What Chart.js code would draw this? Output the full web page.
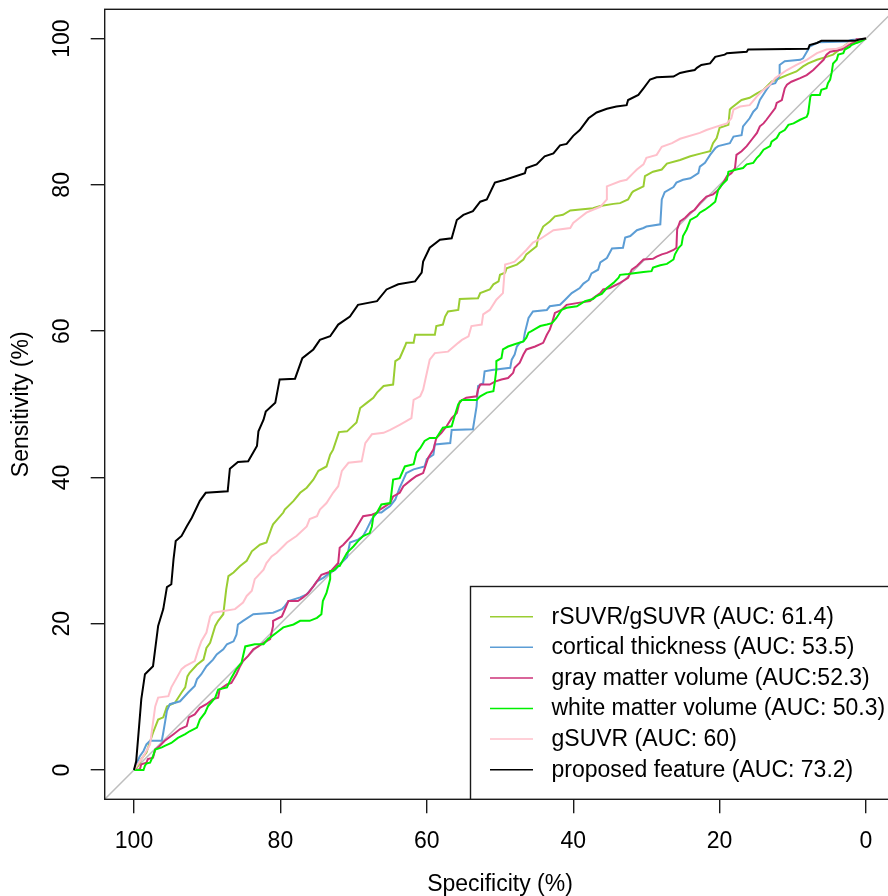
<!DOCTYPE html>
<html><head><meta charset="utf-8">
<script src="https://cdn.jsdelivr.net/npm/chart.js@4.4.1/dist/chart.umd.min.js"></script>
<style>
html,body{margin:0;padding:0;background:#fff;overflow:hidden;}
#wrap{width:888px;height:896px;overflow:hidden;position:relative;background:#fff;}
canvas{display:block;}
</style></head>
<body><div id="wrap"><canvas id="c" width="900" height="896"></canvas></div>
<script>
// ---- tick labels ----
const xTicks = [100, 80, 60, 40, 20, 0];
const yTicks = [0, 20, 40, 60, 80, 100];

// ---- series: [specificity %, sensitivity %] ----
const rsuvrCurve = [[100,0],[99.4,0.6],[99.0,1.5],[98.3,2.4],[97.4,5.1],[96.7,6.9],[96.0,7.2],[95.5,8.7],[94.4,9.2],[93.5,10.6],[93.0,11.3],[92.7,12.8],[92.4,13.3],[91.4,14.4],[90.5,15.1],[90.1,16.7],[89.6,17.4],[88.9,19.7],[88.5,20.4],[87.8,21.3],[87.4,24.7],[87.1,26.5],[86.4,27.0],[85.5,27.9],[84.6,28.6],[83.9,29.9],[82.8,30.8],[81.9,31.1],[81.2,33.1],[81.0,33.6],[79.6,35.2],[79.4,35.6],[78.2,36.8],[77.3,37.9],[76.4,38.6],[75.5,39.7],[74.8,40.9],[73.7,41.5],[73.2,43.1],[72.8,43.8],[72.0,46.2],[70.9,46.3],[69.6,47.5],[69.1,49.5],[68.2,50.2],[67.3,50.9],[66.8,51.6],[65.9,52.5],[64.6,52.7],[64.3,55.9],[63.7,56.3],[63.0,57.9],[62.8,58.4],[61.8,58.4],[61.6,59.5],[58.9,59.5],[58.7,60.7],[57.8,60.9],[57.5,62.0],[57.1,62.7],[55.7,62.9],[55.5,64.4],[53.0,64.5],[52.7,65.2],[51.4,65.7],[50.9,66.4],[50.2,66.8],[50.0,67.7],[49.3,68.0],[49.1,68.6],[47.7,69.1],[46.8,69.8],[46.4,70.5],[45.0,71.6],[44.8,72.8],[44.1,74.3],[43.2,75.0],[42.5,75.7],[41.4,75.9],[40.4,76.5],[37.3,76.8],[36.3,77.1],[34.5,77.4],[33.6,77.5],[32.5,78.0],[32.0,78.9],[31.8,79.1],[30.4,79.8],[30.2,81.2],[29.1,81.8],[27.9,82.1],[27.2,82.9],[25.4,83.4],[24.0,83.9],[22.5,84.3],[21.3,84.6],[20.9,85.7],[20.4,86.4],[20.0,87.8],[18.8,88.2],[18.6,90.3],[18.4,90.5],[17.0,91.6],[15.9,91.9],[14.9,92.5],[14.0,93.0],[12.9,94.1],[12.2,94.4],[10.8,95.0],[9.5,95.5],[8.6,96.2],[7.9,96.6],[6.7,97.1],[5.4,97.5],[4.5,97.8],[3.6,98.5],[3.1,98.9],[2.4,99.4],[1.3,99.6],[0.4,99.9],[0,100]];

const corticalCurve = [[100,0],[99.6,1.0],[99.2,1.9],[98.7,2.6],[98.3,3.5],[97.8,4.0],[96.2,4.0],[96.0,5.1],[95.5,8.1],[95.1,9.0],[93.7,9.4],[92.6,10.6],[91.7,11.5],[91.4,12.4],[90.8,13.1],[90.1,14.2],[89.2,15.1],[88.7,15.8],[87.8,16.5],[87.3,17.2],[86.4,17.6],[86.0,18.5],[85.8,19.9],[85.1,20.4],[83.7,21.3],[81.0,21.5],[79.8,22.0],[79.4,22.4],[78.9,23.1],[77.3,23.6],[76.4,24.0],[75.5,25.1],[75.0,25.8],[74.1,26.3],[73.2,27.0],[72.5,27.4],[71.9,28.1],[70.9,29.1],[70.5,31.1],[69.4,31.5],[68.7,32.0],[68.2,32.9],[67.5,34.3],[66.8,35.2],[66.2,35.2],[65.7,35.6],[65.0,36.1],[64.3,37.0],[63.7,38.6],[63.2,39.7],[62.8,40.6],[61.8,41.1],[60.3,41.5],[60.0,42.5],[59.1,43.1],[58.9,44.5],[56.8,44.7],[56.6,46.5],[53.7,46.6],[53.2,49.7],[53.0,52.5],[52.3,52.9],[52.1,54.5],[51.1,54.7],[48.6,55.0],[48.4,56.1],[48.0,56.8],[47.7,57.9],[47.3,58.4],[46.8,58.6],[46.6,59.8],[46.1,61.8],[45.5,62.7],[43.6,62.9],[43.2,63.4],[41.8,63.6],[41.1,64.3],[40.2,65.2],[39.1,65.9],[38.6,66.5],[37.9,67.0],[37.5,67.9],[36.6,68.4],[36.3,69.4],[35.4,70.0],[34.7,71.3],[33.2,71.4],[32.9,72.8],[32.2,73.0],[31.3,73.8],[30.4,74.1],[30.0,74.3],[28.1,74.6],[27.9,78.0],[27.5,79.0],[26.3,79.7],[25.9,80.3],[25.0,80.7],[24.0,80.9],[22.9,81.6],[22.7,82.5],[22.0,83.0],[21.3,84.1],[20.6,85.0],[20.2,85.3],[18.6,85.7],[18.1,86.6],[17.0,86.8],[16.8,88.0],[15.9,89.1],[15.4,90.0],[14.9,90.5],[14.5,91.6],[13.6,93.0],[13.1,93.7],[12.4,93.9],[11.8,95.0],[11.8,96.4],[11.1,96.9],[9.0,97.1],[8.6,97.3],[7.9,98.5],[7.7,98.9],[6.5,99.5],[2.6,99.6],[2.0,99.8],[0.8,99.9],[0,100]];

const grayCurve = [[100,0],[99.2,0.1],[99.0,0.8],[98.3,1.0],[98.1,1.5],[97.4,1.7],[97.1,2.8],[96.5,3.3],[95.8,4.0],[94.6,4.9],[93.7,5.6],[92.8,6.0],[92.5,7.2],[91.7,7.6],[91.0,8.5],[90.1,9.0],[89.2,9.7],[88.5,9.9],[88.3,11.0],[87.3,11.7],[86.7,11.9],[86.0,13.1],[85.5,14.2],[85.1,14.9],[84.4,15.6],[83.7,16.5],[83.0,16.9],[82.3,17.4],[81.4,17.9],[81.0,19.7],[81.0,20.4],[79.8,21.0],[78.9,23.1],[77.6,23.1],[76.9,23.6],[76.2,24.2],[75.5,25.1],[74.8,26.1],[74.4,26.7],[73.2,27.1],[72.1,28.3],[71.9,30.4],[71.4,30.8],[70.3,32.0],[68.7,34.7],[67.5,34.9],[66.8,35.2],[66.4,35.6],[65.0,36.5],[64.6,37.4],[63.7,37.9],[63.2,38.8],[62.1,39.7],[61.4,40.2],[60.5,40.6],[59.8,42.7],[59.1,43.8],[58.7,45.4],[58.0,46.1],[57.3,47.0],[56.6,48.1],[55.9,48.8],[55.5,50.4],[54.6,50.9],[53.2,51.1],[53.0,52.0],[52.7,52.7],[51.4,52.7],[50.7,53.1],[49.8,53.4],[48.9,53.6],[48.2,54.3],[48.0,55.0],[47.3,55.7],[46.8,56.8],[46.4,57.5],[45.2,57.9],[44.1,58.4],[43.6,59.5],[43.2,60.2],[42.9,61.1],[42.5,62.5],[41.6,62.9],[40.9,63.6],[39.1,63.9],[37.7,64.1],[37.3,64.5],[36.3,65.2],[35.9,65.7],[35.0,65.9],[33.6,66.6],[32.5,67.3],[32.0,68.4],[31.3,68.9],[30.4,69.8],[29.1,69.9],[28.6,70.2],[27.9,70.5],[27.2,70.7],[26.3,71.1],[25.9,71.4],[25.8,73.9],[25.4,75.0],[24.7,75.5],[24.0,76.2],[23.4,76.6],[22.7,77.5],[21.8,78.4],[20.9,78.7],[20.2,79.3],[19.5,80.3],[19.0,81.2],[18.4,81.6],[17.9,82.3],[17.7,84.1],[17.0,84.6],[16.3,85.3],[15.6,86.2],[14.9,87.1],[14.5,88.0],[14.0,88.4],[13.6,88.9],[12.4,90.5],[12.2,91.2],[11.5,91.6],[11.1,93.2],[10.8,93.7],[10.2,94.1],[9.0,94.6],[8.1,95.0],[7.2,95.7],[6.5,96.4],[5.8,97.1],[5.4,97.8],[4.9,98.2],[3.3,98.5],[2.4,99.1],[1.5,99.6],[1.3,99.9],[0.4,99.9],[0,100]];

const whiteCurve = [[100,0],[98.7,0],[98.5,0.6],[98.3,0.9],[97.8,1.0],[97.4,1.9],[97.1,2.8],[96.2,3.1],[95.8,3.3],[94.9,3.7],[94.0,4.4],[93.0,4.9],[92.4,5.3],[91.4,5.8],[91.0,6.9],[90.3,7.8],[89.9,8.7],[88.9,9.9],[88.5,11.0],[87.3,11.3],[86.7,12.6],[86.0,13.8],[85.3,14.7],[84.8,16.9],[83.5,17.2],[82.3,17.2],[81.7,17.9],[80.5,18.8],[79.6,19.5],[78.2,19.9],[77.3,20.4],[76.0,20.4],[75.0,20.8],[74.4,21.3],[74.2,23.1],[73.7,24.2],[73.2,26.1],[73.2,27.2],[72.8,27.2],[72.1,27.9],[71.9,27.9],[70.9,29.7],[70.0,30.6],[69.4,31.3],[68.7,32.0],[67.8,32.4],[67.5,33.3],[67.3,34.7],[66.8,35.2],[66.6,35.6],[66.2,36.3],[65.0,36.5],[64.6,39.7],[63.7,39.9],[63.0,41.5],[61.8,41.8],[61.4,43.4],[60.9,44.0],[60.3,45.0],[59.6,45.4],[58.7,45.4],[57.8,46.8],[56.6,47.0],[56.2,48.4],[55.7,50.0],[55.2,50.6],[53.2,50.6],[52.7,51.1],[51.8,51.6],[50.9,51.8],[50.7,53.1],[50.5,54.7],[50.5,55.9],[49.8,56.3],[49.6,57.5],[48.9,57.9],[48.0,58.2],[46.8,58.6],[46.4,59.1],[46.1,59.8],[45.7,60.0],[45.0,60.4],[44.5,60.7],[43.6,60.9],[42.9,61.1],[42.3,61.8],[41.6,62.9],[40.9,63.2],[39.5,63.4],[38.4,64.1],[37.3,64.4],[36.8,64.8],[36.1,65.1],[35.4,65.9],[34.5,66.6],[33.8,67.3],[33.6,67.7],[32.5,67.8],[30.4,68.1],[29.3,68.2],[29.1,68.7],[28.1,69.0],[27.2,69.2],[26.3,69.8],[26.1,70.5],[25.6,71.4],[25.2,71.8],[25.0,73.0],[24.5,73.9],[24.0,75.2],[23.1,75.7],[22.7,76.2],[22.0,76.6],[21.3,77.1],[20.6,77.7],[20.2,79.3],[19.7,80.0],[19.0,80.7],[18.8,81.8],[17.7,82.1],[16.8,82.3],[16.3,82.8],[15.4,83.0],[14.9,83.7],[14.5,84.1],[14.0,84.8],[13.1,85.3],[12.9,85.9],[12.2,86.4],[11.8,87.1],[11.1,87.5],[10.6,88.2],[9.9,88.4],[9.0,88.9],[8.1,89.3],[7.9,89.8],[7.6,92.1],[7.4,92.3],[6.3,92.3],[6.1,93.0],[5.4,93.2],[5.2,93.9],[4.9,94.4],[4.7,95.3],[4.5,96.6],[4.0,97.1],[3.8,97.8],[3.1,98.0],[2.9,98.5],[2.2,98.9],[2.0,99.1],[1.3,99.4],[0.8,99.6],[0.4,99.8],[0,100]];

const gsuvrCurve = [[100,0],[99.6,0.6],[98.7,1.9],[97.8,3.5],[97.4,6.5],[97.1,8.7],[96.7,9.9],[95.3,10.1],[94.9,11.3],[93.5,13.8],[93.0,14.2],[91.7,14.9],[91.2,16.5],[90.8,17.6],[90.1,18.8],[89.6,21.0],[89.2,21.5],[86.2,22.0],[85.1,22.9],[84.6,23.8],[83.9,24.5],[83.5,26.1],[82.3,27.4],[81.9,28.3],[81.2,29.2],[80.5,29.7],[79.6,30.6],[79.1,31.1],[77.8,32.0],[76.4,33.3],[76.0,34.3],[75.0,34.7],[74.6,35.6],[73.7,36.5],[72.8,37.9],[72.1,38.8],[71.6,40.9],[70.7,42.0],[68.9,42.2],[68.4,44.7],[67.5,45.9],[65.9,46.1],[65.0,46.5],[63.7,47.2],[62.8,47.7],[62.1,48.1],[61.8,50.6],[60.9,51.1],[60.5,52.0],[59.6,56.1],[58.9,57.0],[57.1,57.2],[55.7,58.4],[55.2,58.8],[54.3,59.3],[53.9,60.7],[52.5,60.9],[52.3,62.3],[51.4,62.9],[50.5,64.3],[49.6,65.2],[49.3,69.1],[48.6,69.3],[48.0,69.5],[47.0,70.5],[46.4,71.1],[45.5,72.1],[44.5,72.6],[42.7,73.8],[40.4,74.1],[40.0,74.8],[39.1,75.5],[38.2,76.2],[37.3,76.6],[36.3,77.0],[35.4,78.0],[35.4,79.8],[33.6,80.5],[32.7,80.7],[31.8,81.6],[31.3,82.1],[30.4,82.8],[30.0,83.7],[28.6,84.1],[27.9,85.2],[26.5,85.7],[25.4,86.3],[22.7,87.1],[21.8,87.5],[20.0,88.1],[19.0,88.4],[18.4,89.1],[18.1,90.3],[17.2,90.7],[15.9,90.9],[14.9,92.1],[14.0,93.0],[13.1,93.7],[12.4,94.6],[10.8,95.7],[9.5,96.4],[8.1,97.1],[6.7,98.0],[5.4,98.5],[4.0,98.6],[3.1,98.9],[2.0,99.6],[0.8,99.9],[0,100]];

const proposedCurve = [[100,0],[99.7,1.2],[99.3,6.0],[99.0,9.7],[98.5,13.1],[97.4,14.2],[96.7,19.7],[96.0,22.0],[95.5,25.0],[94.9,25.4],[94.6,28.8],[94.3,31.3],[93.5,32.0],[92.8,33.3],[92.1,34.5],[91.0,36.8],[90.2,37.9],[87.2,38.1],[86.9,41.2],[85.8,42.1],[84.4,42.2],[83.2,44.3],[83.0,46.3],[82.3,47.9],[82.0,49.0],[80.7,50.2],[80.1,53.4],[78.0,53.5],[77.0,56.3],[75.5,57.5],[74.6,58.8],[73.2,59.3],[72.1,60.9],[70.5,62.0],[69.4,63.6],[66.8,64.1],[65.5,65.7],[63.9,66.4],[61.6,66.8],[60.7,68.0],[60.5,69.5],[59.6,71.4],[58.2,72.5],[56.6,72.7],[55.9,75.2],[55.0,75.9],[53.7,76.4],[52.7,77.7],[51.8,78.0],[50.7,80.3],[49.3,80.7],[46.6,81.6],[46.4,82.3],[45.0,82.8],[43.9,83.9],[42.7,84.3],[41.8,85.4],[40.9,85.6],[40.0,86.7],[39.1,87.5],[37.9,89.1],[36.8,89.9],[35.4,90.4],[34.1,90.7],[32.7,90.9],[32.5,91.6],[31.1,92.3],[30.4,93.2],[29.5,94.4],[28.6,94.7],[26.3,94.8],[25.4,95.3],[24.5,95.5],[23.4,95.7],[23.1,96.0],[22.5,96.4],[21.3,96.6],[20.6,97.5],[19.3,97.8],[19.0,98.0],[16.3,98.2],[16.1,98.5],[7.9,98.6],[7.7,99.1],[6.7,99.4],[6.1,99.7],[1.5,99.7],[0.8,99.9],[0,100]];

const chanceLine = [[104,-4],[-4,104]];

const seriesLabels = ['rSUVR/gSUVR (AUC: 61.4)','cortical thickness (AUC: 53.5)','gray matter volume (AUC:52.3)','white matter volume (AUC: 50.3)','gSUVR (AUC: 60)','proposed feature (AUC: 73.2)'];
const seriesColors = ['#9ACD32','#5C9DD5','#CD3278','#00F000','#FFC0CB','#000000'];
const seriesCurves = [rsuvrCurve, corticalCurve, grayCurve, whiteCurve, gsuvrCurve, proposedCurve];

const FONT = '"Liberation Sans", Arial, Helvetica, sans-serif';
const toXY = arr => arr.map(p => ({x: p[0], y: p[1]}));

const datasets = seriesCurves.map((c, i) => ({
  label: seriesLabels[i],
  data: toXY(c),
  borderColor: seriesColors[i],
  backgroundColor: seriesColors[i],
  borderWidth: 2,
  showLine: true,
  pointRadius: 0,
  tension: 0,
  fill: false,
  legendRow: i,
  order: 6 - i
}));
datasets.push({
  label: 'chance',
  data: toXY(chanceLine),
  borderColor: '#BEBEBE',
  borderWidth: 1.5,
  showLine: true,
  pointRadius: 0,
  fill: false,
  order: 20
});

const framePlugin = {
  id: 'frameLegend',
  beforeDraw(chart) {
    const ctx = chart.ctx;
    ctx.save(); ctx.fillStyle = '#fff'; ctx.fillRect(0, 0, chart.width, chart.height); ctx.restore();
  },
  afterDraw(chart) {
    const ctx = chart.ctx, a = chart.chartArea;
    ctx.save();
    ctx.strokeStyle = '#1a1a1a'; ctx.lineWidth = 1.4;
    ctx.strokeRect(a.left, a.top, a.right - a.left, a.bottom - a.top);
    // legend (bottom-right, as in R's legend("bottomright"))
    const lx = 470.5, ly = 586.5;
    ctx.fillStyle = '#fff';
    ctx.fillRect(lx, ly, a.right - lx, a.bottom - ly);
    ctx.strokeRect(lx, ly, a.right - lx, a.bottom - ly);
    ctx.font = '23px ' + FONT;
    ctx.textBaseline = 'middle'; ctx.textAlign = 'left';
    chart.data.datasets.filter(d => d.legendRow !== undefined).forEach(d => {
      const y = 616.7 + d.legendRow * 30.6;
      ctx.strokeStyle = d.borderColor; ctx.lineWidth = 1.5;
      ctx.beginPath(); ctx.moveTo(490, y); ctx.lineTo(533, y); ctx.stroke();
      ctx.fillStyle = '#000';
      ctx.fillText(d.label, 551.5, y + 0.5);
    });
    ctx.restore();
  }
};

const gridOpts = { display: true, drawOnChartArea: false, drawTicks: true, tickLength: 14, color: '#1a1a1a', lineWidth: 1.4 };

new Chart(document.getElementById('c'), {
  type: 'scatter',
  data: { datasets },
  options: {
    responsive: false,
    animation: false,
    devicePixelRatio: 1,
    layout: { padding: { left: 0, top: 9.3, right: 4.7, bottom: 0 } },
    plugins: { legend: { display: false }, tooltip: { enabled: false } },
    elements: { line: { borderCapStyle: 'butt', borderJoinStyle: 'miter' } },
    scales: {
      x: {
        type: 'linear', reverse: true, min: -4, max: 104,
        afterBuildTicks: s => { s.ticks = xTicks.map(v => ({ value: v })); },
        afterFit: s => { s.height = 96.7; s.paddingLeft = 0; s.paddingRight = 0; },
        grid: gridOpts,
        border: { display: false },
        ticks: { font: { family: FONT, size: 23 }, color: '#000', padding: 14.5, minRotation: 0, maxRotation: 0, autoSkip: false },
        title: { display: true, text: 'Specificity (%)', color: '#000', font: { family: FONT, size: 23, lineHeight: 1 }, padding: { top: 0, bottom: 0 } }
      },
      y: {
        type: 'linear', min: -4, max: 104,
        afterBuildTicks: s => { s.ticks = yTicks.map(v => ({ value: v })); },
        afterFit: s => { s.width = 104.7; s.paddingTop = 0; s.paddingBottom = 0; },
        grid: gridOpts,
        border: { display: false },
        ticks: { font: { family: FONT, size: 23 }, color: '#000', padding: 8.5, minRotation: 90, maxRotation: 90, crossAlign: 'center', autoSkip: false },
        title: { display: true, text: 'Sensitivity (%)', color: '#000', font: { family: FONT, size: 23, lineHeight: 1 }, padding: { top: 10.3, bottom: 0 } }
      }
    }
  },
  plugins: [framePlugin]
});
</script>
</body></html>
